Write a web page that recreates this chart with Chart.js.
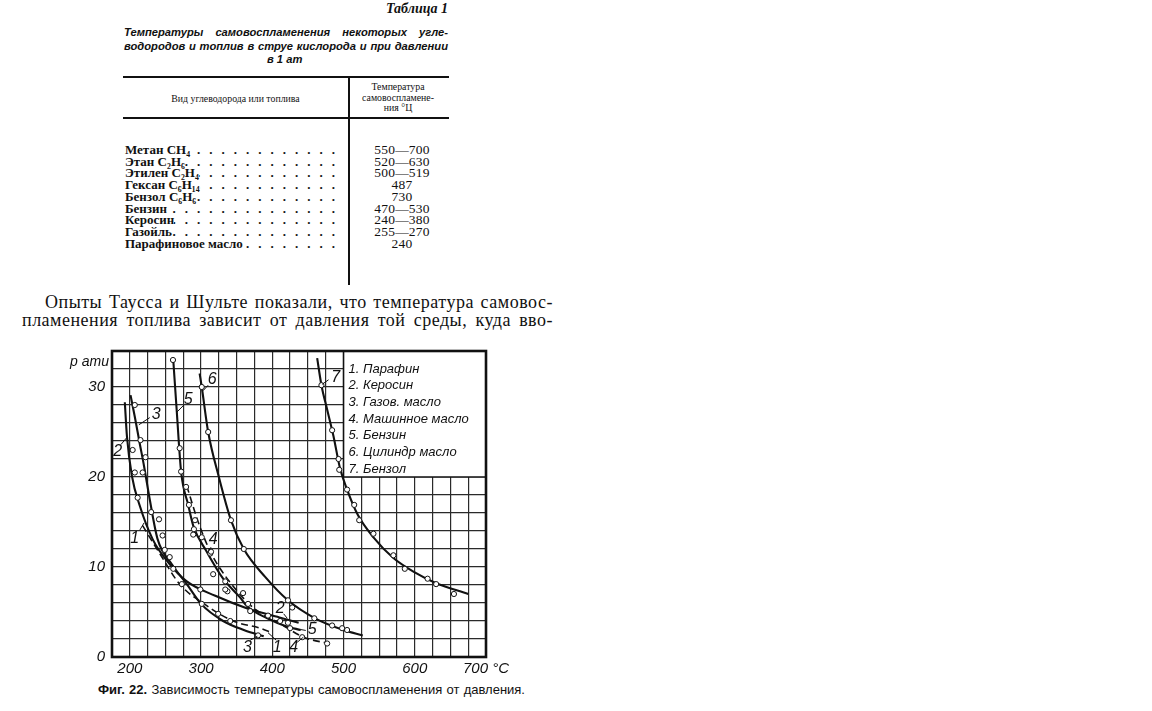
<!DOCTYPE html>
<html><head><meta charset="utf-8">
<script src="https://cdn.jsdelivr.net/npm/chart.js@4.4.1/dist/chart.umd.min.js"></script>
<style>
html,body{margin:0;padding:0;background:#fff;}
body{width:1152px;height:711px;position:relative;overflow:hidden;color:#111;font-family:"Liberation Serif","DejaVu Serif",serif;}
.abs{position:absolute;white-space:nowrap;}
#tabno{left:300px;width:148px;top:1px;text-align:right;font-style:italic;font-weight:bold;font-size:14px;}
.ttl{left:124px;font:italic bold 11.2px "Liberation Sans",Arial,sans-serif;line-height:13px;}
.rule{position:absolute;background:#111;}
.hdr{font-size:9.8px;line-height:10.5px;text-align:center;}
.row{position:absolute;left:125px;width:219px;height:12px;display:flex;font:bold 13px "Liberation Serif",serif;line-height:12px;}
.row .dots{flex:1;overflow:hidden;white-space:nowrap;direction:rtl;letter-spacing:9px;}
.val{position:absolute;left:357px;width:90px;text-align:center;font:13.5px "Liberation Serif",serif;line-height:12px;letter-spacing:0.2px;}
.par{font-size:18px;line-height:18px;letter-spacing:0.5px;}
#cap{left:98px;top:682px;font:13px "Liberation Sans",Arial,sans-serif;line-height:15px;}
#chartBox{position:absolute;left:40px;top:335px;width:480px;height:345px;}
</style>
</head><body>
<div id="tabno" class="abs">Таблица 1</div>
<div class="abs ttl fit" data-w="324" style="top:26px">Температуры самовоспламенения некоторых угле-</div>
<div class="abs ttl fit" data-w="324" style="top:40px">водородов и топлив в струе кислорода и при давлении</div>
<div class="abs ttl" style="top:53px;left:267px">в 1 ат</div>

<div class="rule" style="left:123px;top:76px;width:326px;height:2px"></div>
<div class="rule" style="left:123px;top:117px;width:326px;height:2px"></div>
<div class="rule" style="left:348px;top:76px;width:1.5px;height:209px"></div>
<div class="abs hdr" style="left:123px;width:225px;top:94px">Вид углеводорода или топлива</div>
<div class="abs hdr" style="left:350px;width:96px;top:82px">Температура<br>самовоспламене-<br>ния °Ц</div>
<div id="rows"></div>

<div class="abs par fit" data-w="508" style="left:45px;top:293px">Опыты Таусса и Шульте показали, что температура самовос-</div>
<div class="abs par fit" data-w="531" style="left:22px;top:311px">пламенения топлива зависит от давления той среды, куда вво-</div>

<div id="chartBox"><canvas id="c" width="480" height="345"></canvas></div>
<div id="cap" class="abs fit" data-w="427"><b>Фиг. 22.</b> Зависимость температуры самовоспламенения от давления.</div>

<script>
// ---------- Table 1 ----------
const tableNames = ['Метан CH₄','Этан C₂H₆','Этилен C₂H₄','Гексан C₆H₁₄','Бензол C₆H₆','Бензин','Керосин','Газойль','Парафиновое масло'];
const tableTemps = ['550—700','520—630','500—519','487','730','470—530','240—380','255—270','240'];

// ---------- Fig. 22: curves (temperature °C, pressure ати) ----------
const seriesNames = ['1. Парафин','2. Керосин','3. Газов. масло','4. Машинное масло','5. Бензин','6. Цилиндр масло','7. Бензол'];
const c1T = [218, 242, 270, 308, 345, 383, 400];
const c1P = [14.6, 11.5, 8.1, 5.7, 4.0, 3.2, 2.7];
const c2T = [193, 196, 203, 214, 232, 253, 280, 320, 365, 410, 437];
const c2P = [28.3, 24.5, 20.1, 16.8, 13.1, 10.6, 8.4, 6.8, 5.4, 4.4, 3.8];
const c3T = [201, 207, 214, 220, 228, 239, 259, 280, 300, 331, 360, 388];
const c3P = [29.1, 26.7, 23.7, 21.2, 17.5, 13.1, 10.3, 8.1, 5.9, 4.0, 3.0, 2.3];
const c4T = [280, 296, 313, 327, 351, 373, 411, 444, 479];
const c4P = [19, 15, 11.7, 9.8, 7.3, 5.5, 3.7, 2.2, 1.5];
const c5T = [261, 266, 272, 282, 289, 308, 331, 355, 365, 393, 420, 440];
const c5P = [33, 27.2, 20.6, 16.9, 14.6, 11.7, 8.7, 6.6, 5.6, 4.3, 3.4, 3.0];
const c6T = [298, 301, 310, 325, 342, 360, 390, 422, 460, 500, 527];
const c6P = [31.5, 30, 25, 20, 15.2, 12, 8.9, 6.3, 4.3, 3.0, 2.4];
const c7T = [463, 469, 477, 486, 495, 505, 520, 542, 570, 600, 630, 675];
const c7P = [33.2, 30.2, 27.5, 24.5, 21.0, 18.6, 15.8, 13.3, 11.0, 9.4, 8.2, 7.0];

// ---------- measured points (open circles) ----------
const o1T = [324, 341];
const o1P = [4.8, 4.0];
const o2T = [204, 207, 211, 299, 411];
const o2P = [23, 20.5, 17.7, 7.5, 4.0];
const o3T = [207, 215, 218, 222, 230, 241, 246, 249, 256, 261, 273, 301, 380];
const o3P = [28, 24.1, 20.5, 22.2, 16.1, 15.3, 13.5, 11.9, 11.1, 9.8, 8.1, 5.9, 2.4];
const o4T = [290, 314, 334, 359, 425, 442, 477];
const o4P = [14.2, 11.7, 7.5, 7.1, 3.2, 2.2, 1.5];
const o5T = [260.6, 270, 272, 279, 283, 291.5, 289, 301, 313, 317, 334, 337, 366, 369, 394, 422];
const o5P = [33, 23.2, 20.6, 18.9, 16.9, 15.2, 13.6, 13.3, 11.5, 9.2, 8.4, 7.3, 5.9, 5.1, 4.6, 3.8];
const o6T = [301, 310, 342, 360, 422, 428, 459, 484, 498, 505];
const o6P = [30, 25, 15.2, 12.0, 6.3, 5.5, 4.3, 3.5, 3.2, 3.0];
const o7T = [469, 484, 493, 494, 505, 515, 522, 542, 570, 586, 618, 630, 655];
const o7P = [30.2, 25.2, 22.0, 20.8, 18.6, 16.9, 15.2, 13.7, 11.3, 9.8, 8.7, 8.1, 7.0];

// axis ticks
const xTickLabels = [200, 300, 400, 500, 600, 700];
const yTickLabels = [0, 10, 20, 30];

// ---------- build table ----------
const rowsEl = document.getElementById('rows');
tableNames.forEach((n, i) => {
  const top = 144 + i * 11.7;
  const r = document.createElement('div');
  r.className = 'row'; r.style.top = top + 'px';
  const a = document.createElement('span'); a.textContent = n + ' ';
  const d = document.createElement('span'); d.className = 'dots'; d.textContent = '.'.repeat(40);
  r.appendChild(a); r.appendChild(d); rowsEl.appendChild(r);
  const v = document.createElement('div');
  v.className = 'val'; v.style.top = top + 'px'; v.textContent = tableTemps[i];
  rowsEl.appendChild(v);
});

// justify single lines to a given width (shrink letters if too wide, else widen word gaps)
document.querySelectorAll('.fit').forEach(el => {
  const target = +el.dataset.w;
  let natural = el.getBoundingClientRect().width;
  const chars = el.textContent.length;
  if (natural > target) {
    const cur = parseFloat(getComputedStyle(el).letterSpacing) || 0;
    el.style.letterSpacing = (cur - (natural - target + 2) / chars) + 'px';
    natural = el.getBoundingClientRect().width;
  }
  const gaps = (el.textContent.match(/ /g) || []).length;
  if (gaps && natural < target) el.style.wordSpacing = ((target - natural) / gaps) + 'px';
});

// ---------- chart ----------
const toPts = (xs, ys) => xs.map((x, i) => ({x, y: ys[i]}));
const curves = [[c1T,c1P],[c2T,c2P],[c3T,c3P],[c4T,c4P],[c5T,c5P],[c6T,c6P],[c7T,c7P]];
const obs = [[o1T,o1P],[o2T,o2P],[o3T,o3P],[o4T,o4P],[o5T,o5P],[o6T,o6P],[o7T,o7P]];
const dashed = [true, false, false, true, false, false, false];

const datasets = [];
curves.forEach(([xs, ys], i) => {
  datasets.push({
    type: 'line', label: seriesNames[i], data: toPts(xs, ys),
    borderColor: '#111', borderWidth: dashed[i] ? 1.6 : 2.1,
    borderDash: dashed[i] ? [7, 4] : [], pointRadius: 0,
    cubicInterpolationMode: 'monotone', fill: false, order: 2
  });
});
obs.forEach(([xs, ys], i) => {
  datasets.push({
    type: 'scatter', label: 'obs' + (i + 1), data: toPts(xs, ys),
    pointRadius: 2.6, pointBorderWidth: 1, borderColor: '#111',
    backgroundColor: '#fff', showLine: false, order: 1
  });
});

// curve number tags (annotation config): text position and leader line, in data units
const tags = [
  {t:'2', at:[183,22.8], from:[187.5,23.6], to:[196,24.4]},
  {t:'3', at:[237,26.9], from:[228,26.6], to:[212.7,25.8]},
  {t:'5', at:[282,28.6], from:[276,28.0], to:[266,27.2]},
  {t:'6', at:[315.5,30.8], from:[310,30.2], to:[303,29.6]},
  {t:'7', at:[489,31.0], from:[479,30.8], to:[470,30.3]},
  {t:'1', at:[207,13.2], from:[214,14.1], to:[220,14.9]},
  {t:'4', at:[317,13.0], from:[314,12.2], to:[310,11.7]},
  {t:'2', at:[411,5.4], from:[416,4.8], to:[421,4.3]},
  {t:'5', at:[456,3.0], from:[447,2.95], to:[440,3.05]},
  {t:'3', at:[365,1.1], from:[369,1.86], to:[379,2.3]},
  {t:'1', at:[407,1.0], from:[405.6,1.86], to:[394,2.7]},
  {t:'4', at:[430,1.0], from:[435,1.64], to:[443.6,2.2]}
];
const legendBox = {xFrom: 500, yFrom: 20};

const decor = {
  id: 'decor',
  beforeDatasetsDraw(chart) {
    const {ctx, chartArea: ca, scales: {x, y}} = chart;
    const l = x.getPixelForValue(legendBox.xFrom), b = y.getPixelForValue(legendBox.yFrom);
    ctx.save();
    ctx.fillStyle = '#fff';
    ctx.fillRect(l, ca.top, ca.right - l, b - ca.top);
    ctx.strokeStyle = '#111'; ctx.lineWidth = 1.6;
    ctx.beginPath(); ctx.moveTo(l, ca.top); ctx.lineTo(l, b); ctx.lineTo(ca.right, b); ctx.stroke();
    ctx.fillStyle = '#111';
    ctx.font = 'italic 13px "Liberation Sans", Arial, sans-serif';
    ctx.textBaseline = 'middle';
    chart.data.datasets.filter(d => d.type === 'line').forEach((d, i) => {
      ctx.fillText(d.label, l + 5, ca.top + 18 + i * 16.7);
    });
    ctx.restore();
  },
  afterDatasetsDraw(chart) {
    const {ctx, chartArea: ca, scales: {x, y}} = chart;
    ctx.save();
    ctx.strokeStyle = '#111'; ctx.lineWidth = 2.6;
    ctx.strokeRect(ca.left, ca.top, ca.right - ca.left, ca.bottom - ca.top);
    ctx.fillStyle = '#111';
    ctx.font = 'italic 14px "Liberation Sans", Arial, sans-serif';
    ctx.textBaseline = 'middle'; ctx.textAlign = 'right';
    ctx.fillText('p ати', ca.left - 3, ca.top + 11);
    ctx.textAlign = 'center';
    ctx.font = 'italic 16px "Liberation Sans", Arial, sans-serif';
    ctx.lineWidth = 1;
    tags.forEach(tg => {
      ctx.fillText(tg.t, x.getPixelForValue(tg.at[0]), y.getPixelForValue(tg.at[1]));
      ctx.beginPath();
      ctx.moveTo(x.getPixelForValue(tg.from[0]), y.getPixelForValue(tg.from[1]));
      ctx.lineTo(x.getPixelForValue(tg.to[0]), y.getPixelForValue(tg.to[1]));
      ctx.stroke();
    });
    ctx.restore();
  }
};

new Chart(document.getElementById('c'), {
  type: 'scatter',
  data: {datasets},
  options: {
    responsive: false, animation: false,
    layout: {padding: {top: 10, right: 34, bottom: 0, left: 0}},
    plugins: {legend: {display: false}, tooltip: {enabled: false}},
    scales: {
      x: {
        type: 'linear', min: 175, max: 700,
        afterFit: s => { s.height = 23; },
        grid: {color: '#2a2a2a', lineWidth: 1.2, drawTicks: false},
        border: {display: false},
        ticks: {
          stepSize: 25, autoSkip: false, maxRotation: 0, padding: 3, color: '#111',
          font: {family: '"Liberation Sans", Arial, sans-serif', size: 15, style: 'italic'},
          callback: v => xTickLabels.includes(v) ? (v === 700 ? v + ' °C' : String(v)) : ''
        }
      },
      y: {
        min: 0, max: 34,
        afterFit: s => { s.width = 72; },
        grid: {color: '#2a2a2a', lineWidth: 1.2, drawTicks: false},
        border: {display: false},
        ticks: {
          stepSize: 2, autoSkip: false, padding: 7, color: '#111',
          font: {family: '"Liberation Sans", Arial, sans-serif', size: 15, style: 'italic'},
          callback: v => yTickLabels.includes(v) ? String(v) : ''
        }
      }
    }
  },
  plugins: [decor]
});
</script>
</body></html>
